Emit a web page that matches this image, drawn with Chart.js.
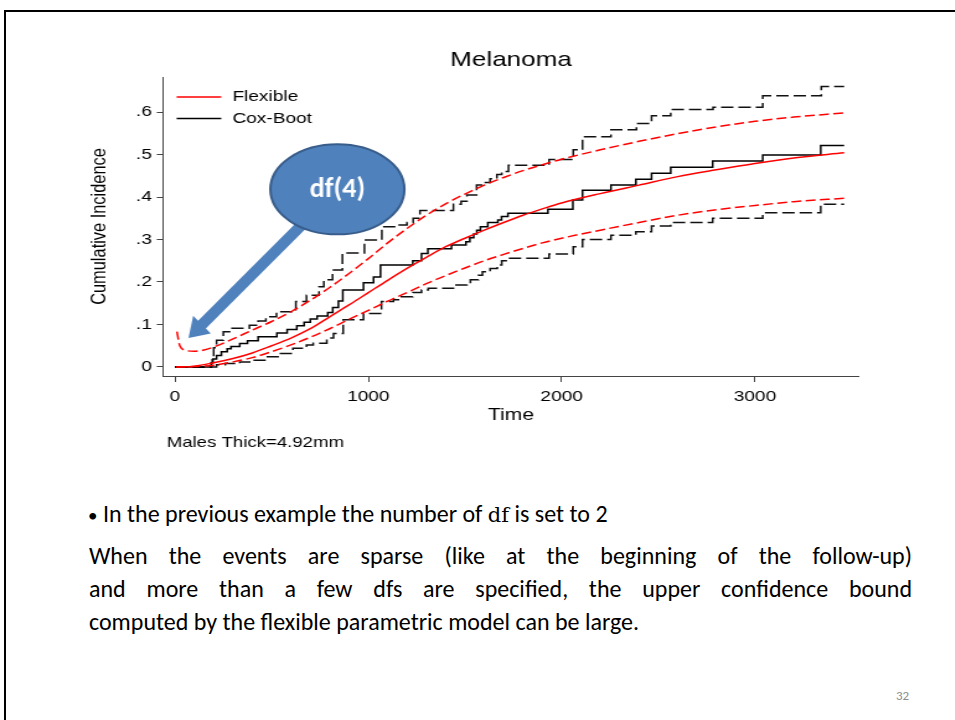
<!DOCTYPE html>
<html lang="en">
<head>
    <meta charset="UTF-8">
    <title>Melanoma - cumulative incidence</title>
    <style>
        body {
            margin: 0;
            width: 955px;
            height: 720px;
            overflow: hidden;
            background: #fff;
            position: relative;
            font-family: Carlito, Lato, "Open Sans", sans-serif;
        }
        .slide {
            position: absolute;
            left: 4px;
            top: 10px;
            width: 1000px;
            height: 1000px;
            border: 2px solid #000;
        }
        /* the Stata graph is stretched sideways on the slide */
        #wrap {
            position: absolute;
            left: 0;
            top: 0;
            width: 770px;
            height: 470px;
            transform: scaleX(1.24);
            transform-origin: 0 0;
        }
        .text {
            position: absolute;
            left: 89px;
            top: 497px;
            width: 823px;
            font-size: 24px;
            color: #000;
        }
        .text div {
            height: 33px;
            line-height: 33px;
            white-space: nowrap;
        }
        .text .l1 {
            margin-left: -1px;
            margin-bottom: 9px;
        }
        .text .j {
            text-align: justify;
            text-align-last: justify;
        }
        .dot {
            display: inline-block;
            width: 15px;
            font-size: 19px;
        }
        .code {
            font-family: "DejaVu Serif", serif;
            font-size: 21px;
        }
        .pg {
            position: absolute;
            left: 896px;
            top: 688px;
            font-size: 13px;
            color: #8c8c8c;
        }
    </style>
</head>
<body>
    <div class="slide"></div>
    <div id="wrap">
        <canvas id="chart" width="770" height="470" style="width:770px;height:470px"></canvas>
    </div>
    <div class="text">
        <div class="l1"><span class="dot">&bull;</span>In the previous example the number of <span class="code">df</span> is set to 2</div>
        <div class="j">When the events are sparse (like at the beginning of the follow-up)</div>
        <div class="j">and more than a few dfs are specified, the upper confidence bound</div>
        <div>computed by the flexible parametric model can be large.</div>
    </div>
    <div class="pg">32</div>

    <script src="https://cdn.jsdelivr.net/npm/chart.js"></script>
    <script>
        const chartTitle = 'Melanoma';
        const noteText = 'Males Thick=4.92mm';

        const xTicks = [0, 1000, 2000, 3000];
        const xTickLabels = ['0', '1000', '2000', '3000'];
        const yTicks = [0, 0.1, 0.2, 0.3, 0.4, 0.5, 0.6];
        const yTickLabels = ['0', '.1', '.2', '.3', '.4', '.5', '.6'];

        // flexible parametric model, df(4)
        const fitTime = [5, 100, 200, 300, 400, 500, 600, 700, 800, 900, 1000, 1100, 1200, 1300, 1400, 1500, 1600, 1700, 1800, 1900, 2000, 2200, 2400, 2600, 2800, 3000, 3200, 3461];
        const fitEst = [0, 0.002, 0.010, 0.020, 0.033, 0.050, 0.068, 0.090, 0.118, 0.146, 0.175, 0.204, 0.232, 0.258, 0.283, 0.303, 0.322, 0.340, 0.357, 0.372, 0.386, 0.408, 0.428, 0.448, 0.464, 0.479, 0.492, 0.504];
        const fitLow = [0, 0.001, 0.004, 0.012, 0.022, 0.036, 0.052, 0.070, 0.090, 0.112, 0.133, 0.155, 0.175, 0.196, 0.215, 0.233, 0.250, 0.265, 0.279, 0.292, 0.303, 0.322, 0.340, 0.357, 0.370, 0.380, 0.389, 0.397];
        const fitHighTime = [10, 25, 50, 100, 150, 200, 300, 400, 500, 600, 700, 800, 900, 1000, 1100, 1200, 1300, 1400, 1500, 1600, 1700, 1800, 1900, 2000, 2200, 2400, 2600, 2800, 3000, 3200, 3461];
        const fitHigh = [0.083, 0.050, 0.040, 0.037, 0.040, 0.047, 0.066, 0.087, 0.107, 0.130, 0.157, 0.187, 0.220, 0.255, 0.292, 0.326, 0.357, 0.384, 0.407, 0.428, 0.446, 0.462, 0.476, 0.489, 0.511, 0.531, 0.549, 0.565, 0.578, 0.588, 0.598];

        // Cox model, bootstrap bounds (step functions)
        const coxTime = [0, 188, 196, 215, 240, 270, 290, 335, 375, 430, 527, 580, 630, 668, 700, 735, 790, 816, 845, 868, 975, 1027, 1063, 1230, 1275, 1308, 1430, 1505, 1525, 1545, 1561, 1580, 1618, 1670, 1689, 1722, 1929, 2058, 2108, 2255, 2384, 2465, 2564, 2781, 3040, 3340, 3461];
        const coxEst = [0, 0.010, 0.019, 0.027, 0.036, 0.043, 0.048, 0.055, 0.062, 0.071, 0.080, 0.088, 0.097, 0.105, 0.113, 0.120, 0.128, 0.140, 0.155, 0.181, 0.198, 0.212, 0.240, 0.250, 0.267, 0.278, 0.287, 0.295, 0.304, 0.313, 0.322, 0.330, 0.340, 0.346, 0.354, 0.362, 0.371, 0.393, 0.416, 0.428, 0.442, 0.456, 0.470, 0.485, 0.499, 0.521, 0.521];
        const coxHighTime = [0, 188, 193, 200, 215, 250, 290, 385, 430, 470, 525, 625, 680, 745, 770, 815, 866, 980, 1070, 1160, 1200, 1232, 1267, 1440, 1480, 1510, 1560, 1590, 1630, 1665, 1690, 1725, 1935, 2060, 2108, 2255, 2387, 2465, 2564, 2783, 3040, 3343, 3461];
        const coxHigh = [0, 0.010, 0.024, 0.045, 0.063, 0.083, 0.091, 0.098, 0.108, 0.118, 0.130, 0.154, 0.169, 0.189, 0.205, 0.228, 0.268, 0.299, 0.330, 0.334, 0.340, 0.350, 0.368, 0.383, 0.390, 0.405, 0.428, 0.434, 0.443, 0.453, 0.460, 0.475, 0.488, 0.511, 0.542, 0.558, 0.573, 0.591, 0.606, 0.611, 0.638, 0.660, 0.660];
        const coxLowTime = [0, 215, 260, 335, 405, 470, 540, 610, 680, 715, 785, 820, 870, 975, 1068, 1130, 1160, 1230, 1275, 1310, 1440, 1510, 1528, 1570, 1590, 1630, 1667, 1690, 1725, 1935, 2060, 2108, 2255, 2384, 2465, 2564, 2781, 3040, 3340, 3461];
        const coxLow = [0, 0.005, 0.008, 0.012, 0.016, 0.024, 0.032, 0.044, 0.052, 0.056, 0.068, 0.079, 0.111, 0.126, 0.154, 0.158, 0.165, 0.175, 0.181, 0.185, 0.193, 0.197, 0.205, 0.216, 0.224, 0.232, 0.240, 0.250, 0.256, 0.266, 0.283, 0.300, 0.310, 0.318, 0.332, 0.340, 0.350, 0.363, 0.383, 0.383];

        const S = 1.24; // horizontal stretch of the wrapper

        function pts(t, v) {
            return t.map((x, i) => ({ x: x, y: v[i] }));
        }

        // Stata style title, legend and note
        const stataText = {
            id: 'stataText',
            afterDraw(chart) {
                const { ctx, chartArea: a } = chart;
                ctx.save();
                ctx.fillStyle = '#000';
                ctx.textBaseline = 'middle';
                ctx.font = '21px "Liberation Sans", Arial, sans-serif';
                ctx.textAlign = 'center';
                ctx.fillText(chartTitle, (a.left + a.right) / 2, 60);

                ctx.textAlign = 'left';
                ctx.font = '15px "Liberation Sans", Arial, sans-serif';
                ctx.fillText(noteText, a.left + 3, 443);

                ctx.font = '15.4px "Liberation Sans", Arial, sans-serif';
                chart.data.datasets.filter(d => d.inLegend).forEach((d, i) => {
                    const y = a.top + 20 + i * 21.5;
                    ctx.strokeStyle = d.borderColor;
                    ctx.lineWidth = 1.5;
                    ctx.beginPath();
                    ctx.moveTo(a.left + 11, y);
                    ctx.lineTo(a.left + 47, y);
                    ctx.stroke();
                    ctx.fillText(d.label, a.left + 56, y);
                });
                ctx.restore();
            }
        };

        // the "df(4)" callout with its arrow, placed in data units
        const callout = {
            id: 'callout',
            afterDraw(chart) {
                const { ctx, scales: { x, y } } = chart;
                const tip = [x.getPixelForValue(70) * S, y.getPixelForValue(0.068)];
                const c = [x.getPixelForValue(840) * S, y.getPixelForValue(0.418)];
                let dx = c[0] - tip[0], dy = c[1] - tip[1];
                const len = Math.hypot(dx, dy);
                dx /= len; dy /= len;
                const nx = -dy, ny = dx;
                const hl = 19, hw = 12.5, sw = 5.5;
                const bx = tip[0] + dx * hl, by = tip[1] + dy * hl;
                const poly = [
                    [tip[0], tip[1]],
                    [bx + nx * hw, by + ny * hw],
                    [bx + nx * sw, by + ny * sw],
                    [c[0] + nx * sw, c[1] + ny * sw],
                    [c[0] - nx * sw, c[1] - ny * sw],
                    [bx - nx * sw, by - ny * sw],
                    [bx - nx * hw, by - ny * hw]
                ];
                ctx.save();
                ctx.fillStyle = '#4f81bd';
                ctx.beginPath();
                poly.forEach((p, i) => {
                    if (i === 0) ctx.moveTo(p[0] / S, p[1]);
                    else ctx.lineTo(p[0] / S, p[1]);
                });
                ctx.closePath();
                ctx.fill();

                ctx.beginPath();
                ctx.ellipse(c[0] / S, c[1], 67 / S, 45, 0, 0, Math.PI * 2);
                ctx.fillStyle = '#4f81bd';
                ctx.fill();
                ctx.lineWidth = 2;
                ctx.strokeStyle = '#385d8a';
                ctx.stroke();

                ctx.translate(c[0] / S, c[1]);
                ctx.scale(1 / S, 1);
                ctx.fillStyle = '#fff';
                ctx.font = 'bold 28px Carlito, Lato, sans-serif';
                ctx.textAlign = 'center';
                ctx.textBaseline = 'middle';
                ctx.fillText('df(4)', 0, 1);
                ctx.restore();
            }
        };

        Chart.defaults.font.family = '"Liberation Sans", Arial, sans-serif';
        Chart.defaults.color = '#000';

        const red = '#ff0000';
        const black = '#000000';

        new Chart(document.getElementById('chart'), {
            type: 'line',
            data: {
                datasets: [
                    { label: 'Flexible', inLegend: true, data: pts(fitTime, fitEst), borderColor: red, borderWidth: 1.5, cubicInterpolationMode: 'monotone' },
                    { label: 'Flexible upper', data: pts(fitHighTime, fitHigh), borderColor: red, borderWidth: 1.5, borderDash: [8, 3.5], cubicInterpolationMode: 'monotone' },
                    { label: 'Flexible lower', data: pts(fitTime, fitLow), borderColor: red, borderWidth: 1.5, borderDash: [8, 3.5], cubicInterpolationMode: 'monotone' },
                    { label: 'Cox-Boot', inLegend: true, data: pts(coxTime, coxEst), borderColor: black, borderWidth: 1.5, stepped: 'before' },
                    { label: 'Cox-Boot upper', data: pts(coxHighTime, coxHigh), borderColor: '#111', borderWidth: 1.5, borderDash: [10, 4], stepped: 'before' },
                    { label: 'Cox-Boot lower', data: pts(coxLowTime, coxLow), borderColor: '#111', borderWidth: 1.5, borderDash: [10, 4], stepped: 'before' }
                ]
            },
            options: {
                responsive: false,
                animation: false,
                events: [],
                elements: { point: { radius: 0 } },
                layout: { padding: { left: 0, top: 77, right: 77.26, bottom: 0 } },
                plugins: {
                    legend: { display: false },
                    tooltip: { enabled: false }
                },
                scales: {
                    x: {
                        type: 'linear',
                        min: -62,
                        max: 3538,
                        afterBuildTicks: s => { s.ticks = xTicks.map(v => ({ value: v })); },
                        afterFit: s => { s.height = 94; },
                        ticks: {
                            callback: (v, i) => xTickLabels[i],
                            font: { size: 15.4 },
                            padding: 6,
                            maxRotation: 0,
                            autoSkip: false
                        },
                        grid: { drawOnChartArea: false, tickLength: 6, tickColor: '#444' },
                        border: { color: '#444', width: 1 },
                        title: { display: true, text: 'Time', font: { size: 17 }, padding: { top: 0, bottom: 44.8 } }
                    },
                    y: {
                        min: -0.0212,
                        max: 0.6824,
                        afterBuildTicks: s => { s.ticks = yTicks.map(v => ({ value: v })); },
                        afterFit: s => { s.width = 131.45; },
                        ticks: {
                            callback: (v, i) => yTickLabels[i],
                            font: { size: 15.4 },
                            padding: 4,
                            autoSkip: false
                        },
                        grid: { drawOnChartArea: false, tickLength: 5, tickColor: '#444' },
                        border: { color: '#444', width: 1 },
                        title: { display: true, text: 'Cumulative Incidence', font: { size: 16.4 }, padding: { top: 70.8, bottom: 0 } }
                    }
                }
            },
            plugins: [stataText, callout]
        });
    </script>
</body>
</html>
